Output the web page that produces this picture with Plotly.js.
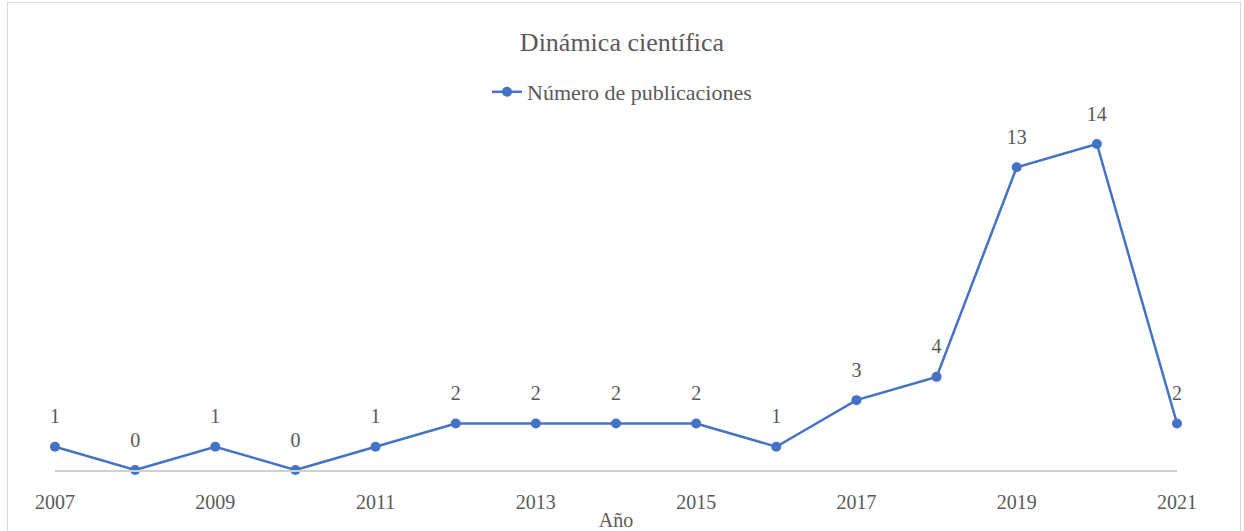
<!DOCTYPE html>
<html>
<head>
<meta charset="utf-8">
<script src="https://cdn.plot.ly/plotly-3.0.1.min.js"></script>
<style>
html,body{margin:0;padding:0;background:#fff;}
#wrap{position:relative;width:1244px;height:531px;}
#chart{width:1244px;height:531px;}
#frame{position:absolute;left:7px;top:2px;width:1234px;height:540px;border:1px solid #d9d9d9;pointer-events:none;box-sizing:border-box;}
</style>
</head>
<body>
<div id="wrap">
<div id="chart"></div>
<div id="frame"></div>
</div>
<script>
const years = [2007,2008,2009,2010,2011,2012,2013,2014,2015,2016,2017,2018,2019,2020,2021];
const publicaciones = [1,0,1,0,1,2,2,2,2,1,3,4,13,14,2];
const tickYears = [2007,2009,2011,2013,2015,2017,2019,2021];
const tickLabels = ["2007","2009","2011","2013","2015","2017","2019","2021"];
const seriesName = "Número de publicaciones";
const chartTitle = "Dinámica científica";
const xTitle = "Año";

const textColor = "#595959";
const fontFam = "Liberation Serif, Times New Roman, serif";

const lineTrace = {
  x: years,
  y: publicaciones,
  type: "scatter",
  mode: "lines+markers",
  name: seriesName,
  line: {color: "#4472C4", width: 2.5},
  marker: {color: "#4472C4", size: 10},
  cliponaxis: false
};

// invisible markers used only to place the data labels a bit higher
const labelTrace = {
  x: years,
  y: publicaciones,
  type: "scatter",
  mode: "markers+text",
  showlegend: false,
  hoverinfo: "skip",
  text: publicaciones.map(String),
  textposition: "top center",
  textfont: {family: fontFam, size: 20, color: textColor},
  marker: {color: "rgba(0,0,0,0)", size: 28},
  cliponaxis: false
};

const layout = {
  width: 1244,
  height: 531,
  margin: {l: 55, r: 67, t: 144, b: 61},
  paper_bgcolor: "#ffffff",
  plot_bgcolor: "#ffffff",
  font: {family: fontFam, color: textColor, size: 20},
  title: {
    text: chartTitle,
    font: {family: fontFam, size: 26, color: textColor},
    x: 0.5, xref: "container", xanchor: "center",
    y: 1 - 42/531, yref: "container", yanchor: "middle"
  },
  showlegend: true,
  legend: {
    orientation: "h",
    x: 0.5, xref: "container", xanchor: "center",
    y: 1 - 92/531, yref: "container", yanchor: "middle",
    font: {family: fontFam, size: 22, color: textColor},
    bgcolor: "rgba(0,0,0,0)"
  },
  xaxis: {
    range: [2007, 2021],
    automargin: false,
    tickmode: "array",
    tickvals: tickYears,
    ticktext: tickLabels,
    ticks: "",
    ticklabelstandoff: 13,
    showgrid: false,
    zeroline: false,
    showline: true,
    linecolor: "#d0d0d0",
    linewidth: 1.5,
    tickfont: {family: fontFam, size: 20, color: textColor},
    title: {text: xTitle, font: {family: fontFam, size: 20, color: textColor}, standoff: 1}
  },
  yaxis: {
    range: [0, 14],
    automargin: false,
    visible: false,
    showgrid: false,
    zeroline: false
  }
};

Plotly.newPlot("chart", [lineTrace, labelTrace], layout, {displayModeBar: false, staticPlot: true});
</script>
</body>
</html>
